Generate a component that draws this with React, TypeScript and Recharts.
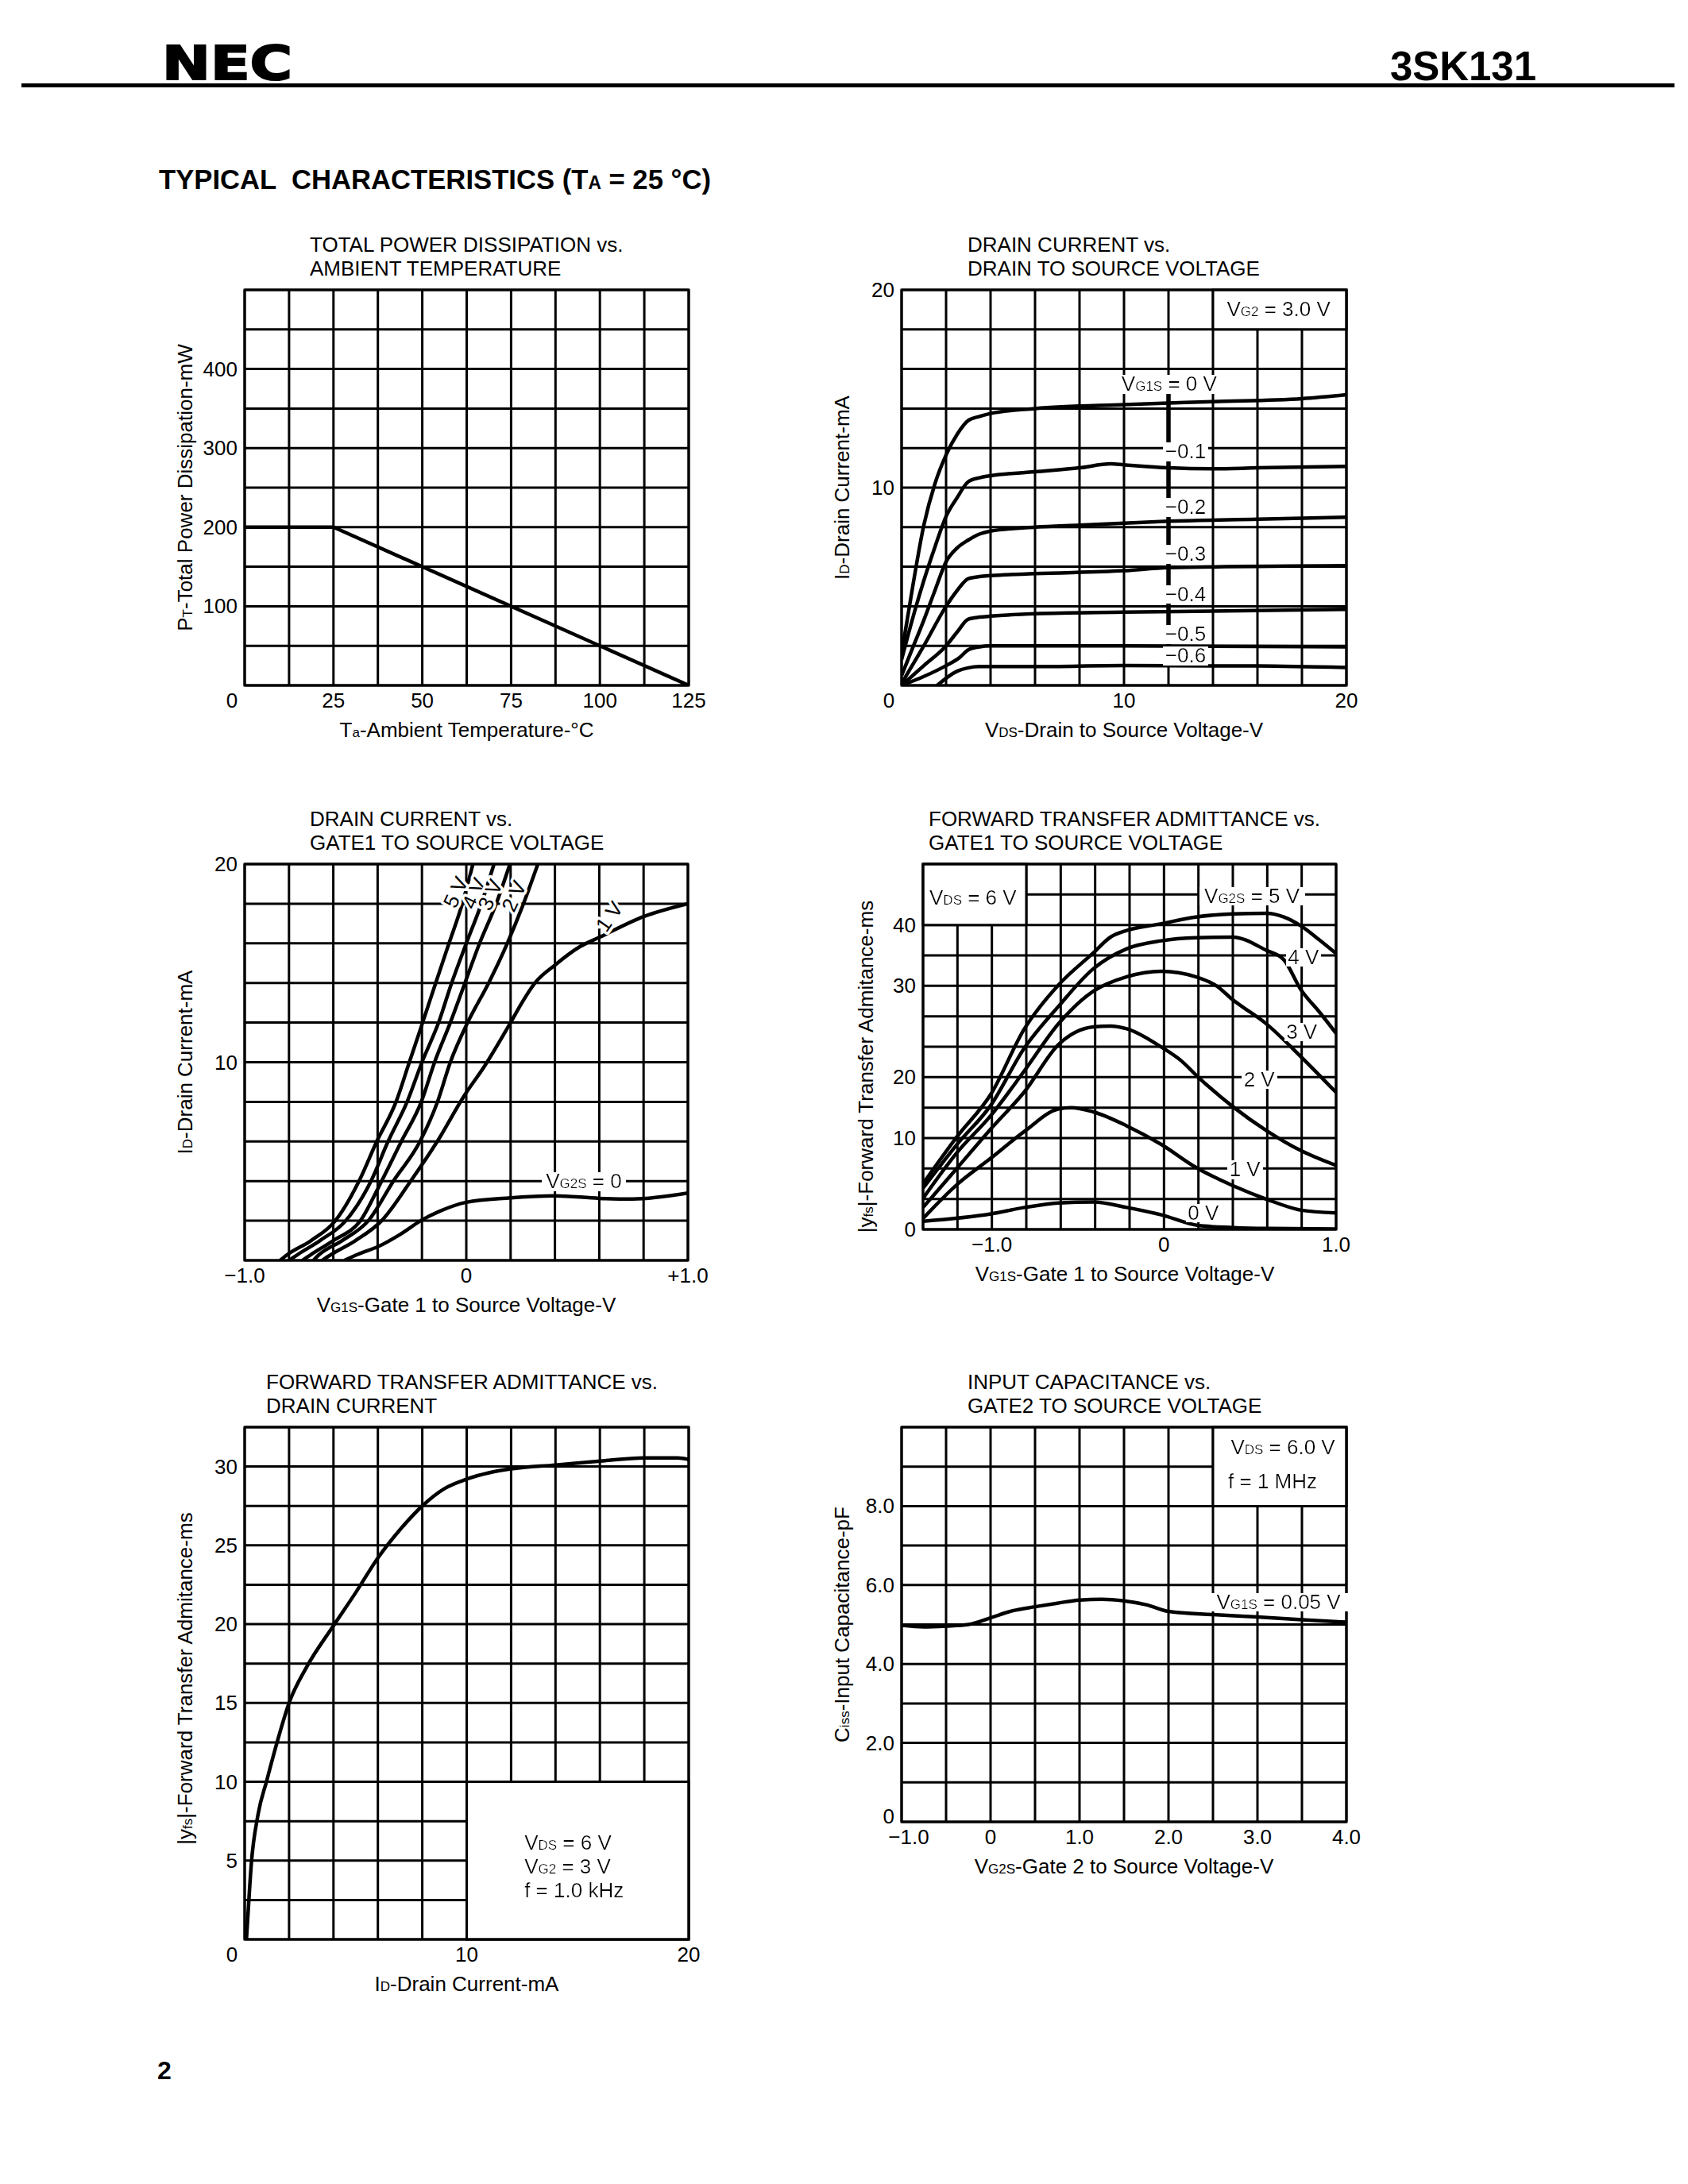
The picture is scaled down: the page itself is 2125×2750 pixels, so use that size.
import React from 'react';
import {
  LineChart,
  Line,
  XAxis,
  YAxis,
  CartesianGrid,
  ReferenceArea,
  ReferenceDot,
  ReferenceLine,
} from 'recharts';

const FONT = '"Liberation Sans", Arial, Helvetica, sans-serif';
const FS = 26;
const SUB = 17;
const GRID_W = 3;
const CURVE_W = 4.5;

type Pt = [number, number];
type Seg = string | [string]; // [text] = subscript
type TickLabel = { v: number; text: string; dx?: number; dy?: number };
type Note = {
  x: number;
  y: number;
  segs: Seg[];
  anchor?: 'start' | 'middle' | 'end';
  rotate?: number;
};

// ---------- 1: total power dissipation vs ambient temperature ----------
const PT_X_GRID = [0, 12.5, 25, 37.5, 50, 62.5, 75, 87.5, 100, 112.5, 125];
const PT_Y_GRID = [0, 50, 100, 150, 200, 250, 300, 350, 400, 450, 500];
const PT_X_LABELS: TickLabel[] = [
  { v: 0, text: '0', dx: -16 },
  { v: 25, text: '25' },
  { v: 50, text: '50' },
  { v: 75, text: '75' },
  { v: 100, text: '100' },
  { v: 125, text: '125' },
];
const PT_Y_LABELS: TickLabel[] = [
  { v: 100, text: '100' },
  { v: 200, text: '200' },
  { v: 300, text: '300' },
  { v: 400, text: '400' },
];
const PT_CURVE: Pt[] = [[0, 200], [25, 200], [125, 0]];

// ---------- 2: drain current vs drain to source voltage ----------
const VDS_GRID = [0, 2, 4, 6, 8, 10, 12, 14, 16, 18, 20];
const ID20_GRID = [0, 2, 4, 6, 8, 10, 12, 14, 16, 18, 20];
const VDS_LABELS: TickLabel[] = [
  { v: 0, text: '0', dx: -16 },
  { v: 10, text: '10' },
  { v: 20, text: '20' },
];
const ID20_LABELS: TickLabel[] = [
  { v: 10, text: '10' },
  { v: 20, text: '20' },
];
const ID_VDS_CURVES: Pt[][] = [
  // VG1S = 0 V
  [[0, 1.6], [0.5, 5.0], [1, 8.1], [1.5, 10.2], [2, 11.65], [2.5, 12.7], [3, 13.4], [3.5, 13.6], [4, 13.75], [6, 14.0], [10, 14.2], [14, 14.35], [18, 14.5], [20, 14.7]],
  // -0.1
  [[0, 1.3], [0.5, 3.4], [1, 5.3], [1.5, 7.0], [2, 8.55], [2.5, 9.5], [3, 10.3], [3.5, 10.5], [4, 10.6], [6, 10.8], [8, 11.0], [9.4, 11.2], [10, 11.15], [12, 11.0], [14, 10.95], [16, 11.0], [20, 11.07]],
  // -0.2
  [[0, 0.5], [0.5, 1.9], [1, 3.3], [1.5, 4.8], [2, 6.25], [2.5, 6.95], [3, 7.35], [3.5, 7.65], [4, 7.8], [6, 8.0], [8, 8.1], [10, 8.2], [12, 8.3], [16, 8.4], [20, 8.5]],
  // -0.3
  [[0, 0.1], [1, 2.0], [2, 4.0], [2.5, 4.8], [3, 5.4], [3.5, 5.5], [4, 5.55], [6, 5.65], [10, 5.8], [12, 5.95], [20, 6.05]],
  // -0.4
  [[0, 0], [1, 1.0], [2, 2.0], [2.5, 2.7], [3, 3.35], [3.5, 3.45], [4, 3.5], [6, 3.62], [10, 3.7], [20, 3.85]],
  // -0.5
  [[0, 0], [1, 0.45], [2, 1.0], [2.6, 1.4], [3, 1.8], [3.5, 1.95], [4, 2.0], [10, 2.0], [20, 1.95]],
  // -0.6
  [[1.6, 0], [2.5, 0.72], [3, 0.89], [3.5, 0.95], [6, 0.95], [10, 1.0], [16, 0.98], [20, 0.9]],
];
const ID_VDS_NOTES: Note[] = [
  { x: 16.95, y: 19.03, segs: ['V', ['G2'], ' = 3.0 V'] },
  { x: 12.03, y: 15.25, segs: ['V', ['G1S'], ' = 0 V'] },
  { x: 11.85, y: 11.83, segs: ['\u22120.1'], anchor: 'start' },
  { x: 11.85, y: 9.03, segs: ['\u22120.2'], anchor: 'start' },
  { x: 11.85, y: 6.66, segs: ['\u22120.3'], anchor: 'start' },
  { x: 11.85, y: 4.63, segs: ['\u22120.4'], anchor: 'start' },
  { x: 11.85, y: 2.6, segs: ['\u22120.5'], anchor: 'start' },
  { x: 11.85, y: 1.52, segs: ['\u22120.6'], anchor: 'start' },
];

// ---------- 3: drain current vs gate1 to source voltage ----------
const VG1_GRID = [-1, -0.8, -0.6, -0.4, -0.2, 0, 0.2, 0.4, 0.6, 0.8, 1];
const VG1_LABELS: TickLabel[] = [
  { v: -1, text: '\u22121.0' },
  { v: 0, text: '0' },
  { v: 1, text: '+1.0' },
];
const ID_VG1_CURVES: Pt[][] = [
  // VG2S = 5 V
  [[-0.84, 0], [-0.806, 0.3], [-0.7, 1.0], [-0.591, 2], [-0.484, 4], [-0.404, 6], [-0.317, 8], [-0.257, 10], [-0.197, 12], [-0.138, 14], [-0.078, 16], [-0.018, 18], [0.03, 20]],
  // 4 V
  [[-0.8, 0], [-0.76, 0.3], [-0.66, 1.0], [-0.544, 2], [-0.43, 4], [-0.353, 6], [-0.267, 8], [-0.2, 10], [-0.125, 12], [-0.066, 14], [0.0, 16], [0.068, 18], [0.125, 20]],
  // 3 V
  [[-0.74, 0], [-0.7, 0.3], [-0.6, 1.0], [-0.478, 2], [-0.382, 4], [-0.293, 6], [-0.203, 8], [-0.143, 10], [-0.072, 12], [-0.006, 14], [0.06, 16], [0.135, 18], [0.197, 20]],
  // 2 V
  [[-0.69, 0], [-0.663, 0.3], [-0.56, 1.0], [-0.442, 2], [-0.329, 4], [-0.209, 6], [-0.13, 8], [-0.072, 10], [0.006, 12], [0.101, 14], [0.185, 16], [0.258, 18], [0.323, 20]],
  // 1 V
  [[-0.65, 0], [-0.609, 0.3], [-0.5, 1.0], [-0.382, 2], [-0.251, 4], [-0.131, 6], [-0.01, 8.3], [0.084, 9.83], [0.2, 12.0], [0.251, 13.0], [0.31, 14.0], [0.4, 14.9], [0.514, 15.84], [0.6, 16.3], [0.8, 17.35], [1.0, 18.0]],
  // 0 V
  [[-0.55, 0], [-0.49, 0.3], [-0.397, 0.7], [-0.3, 1.3], [-0.2, 2.04], [-0.12, 2.48], [0, 2.93], [0.19, 3.15], [0.4, 3.26], [0.6, 3.13], [0.75, 3.1], [1.0, 3.4]],
];
// rotated labels along the steep curves
const ID_VG1_ROT_NOTES: Note[] = [
  { x: -0.048, y: 18.58, segs: ['5 V'], rotate: -65 },
  { x: 0.036, y: 18.52, segs: ['4 V'], rotate: -65 },
  { x: 0.108, y: 18.45, segs: ['3 V'], rotate: -65 },
  { x: 0.215, y: 18.38, segs: ['2 V'], rotate: -65 },
  { x: 0.645, y: 17.35, segs: ['1 V'], rotate: -55 },
];
const ID_VG1_NOTES: Note[] = [{ x: 0.53, y: 4.0, segs: ['V', ['G2S'], ' = 0'] }];

// ---------- 4: |yfs| vs gate1 to source voltage ----------
const YFS_VG1_GRID = [-1.4, -1.2, -1, -0.8, -0.6, -0.4, -0.2, 0, 0.2, 0.4, 0.6, 0.8, 1];
const YFS_VG1_LABELS: TickLabel[] = [
  { v: -1, text: '\u22121.0' },
  { v: 0, text: '0' },
  { v: 1, text: '1.0' },
];
// the printed scale is uneven: ms value -> grid row
const YFS_ROWS: Pt[] = [[0, 0], [10, 3], [20, 5], [30, 8], [40, 10], [50, 12]];
const YFS_ROW_GRID = [0, 1, 2, 3, 4, 5, 6, 7, 8, 9, 10, 11, 12];
const YFS_VG1_CURVES: Pt[][] = [
  // VG2S = 5 V
  [[-1.4, 5.0], [-1.203, 10.2], [-1.006, 17.2], [-0.811, 25.3], [-0.611, 30.2], [-0.411, 35.4], [-0.311, 38.0], [-0.216, 39.1], [-0.016, 40.2], [0.184, 41.3], [0.398, 41.8], [0.597, 41.9], [0.696, 41.3], [0.798, 39.8], [0.9, 37.6], [1.0, 35.3]],
  // 4 V
  [[-1.4, 4.5], [-1.203, 9.3], [-1.006, 15.4], [-0.811, 23.2], [-0.611, 27.8], [-0.411, 32.8], [-0.216, 36.1], [-0.016, 37.4], [0.184, 37.9], [0.398, 38.0], [0.597, 35.8], [0.696, 34.3], [0.798, 29.5], [0.9, 27.2], [1.0, 24.8]],
  // 3 V
  [[-1.4, 3.4], [-1.203, 8.4], [-1.006, 13.7], [-0.811, 20.7], [-0.611, 25.9], [-0.411, 29.4], [-0.216, 31.5], [-0.016, 32.4], [0.184, 31.5], [0.305, 30.0], [0.398, 28.5], [0.597, 25.8], [0.798, 22.2], [1.0, 17.5]],
  // 2 V
  [[-1.4, 2.4], [-1.203, 6.7], [-1.006, 11.5], [-0.811, 17.6], [-0.611, 23.6], [-0.411, 25.5], [-0.311, 25.6], [-0.216, 25.3], [-0.016, 23.3], [0.1, 21.8], [0.199, 20.0], [0.398, 15.2], [0.597, 11.2], [0.798, 8.6], [1.0, 7.0]],
  // 1 V
  [[-1.4, 1.2], [-1.203, 4.9], [-1.006, 7.8], [-0.811, 11.1], [-0.611, 14.8], [-0.54, 15.0], [-0.411, 14.3], [-0.216, 12.0], [-0.016, 9.3], [0.184, 6.8], [0.398, 4.8], [0.597, 3.3], [0.798, 2.1], [1.0, 1.8]],
  // 0 V
  [[-1.4, 0.9], [-1.006, 1.7], [-0.811, 2.4], [-0.611, 2.9], [-0.411, 3.0], [-0.216, 2.4], [-0.016, 1.6], [0.199, 0.43], [0.4, 0.2], [0.6, 0.1], [1.0, 0.05]],
];
const YFS_VG1_NOTES: Note[] = [
  { x: -1.11, y: 44.5, segs: ['V', ['DS'], ' = 6 V'] },
  { x: 0.511, y: 44.8, segs: ['V', ['G2S'], ' = 5 V'] },
  { x: 0.81, y: 34.8, segs: ['4 V'] },
  { x: 0.8, y: 25.0, segs: ['3 V'] },
  { x: 0.553, y: 19.7, segs: ['2 V'] },
  { x: 0.47, y: 6.6, segs: ['1 V'] },
  { x: 0.228, y: 1.85, segs: ['0 V'] },
];

// ---------- 5: |yfs| vs drain current ----------
const ID_X_GRID = [0, 2, 4, 6, 8, 10, 12, 14, 16, 18, 20];
const ID_X_LABELS: TickLabel[] = [
  { v: 0, text: '0', dx: -16 },
  { v: 10, text: '10' },
  { v: 20, text: '20' },
];
const YFS_ID_GRID = [0, 2.5, 5, 7.5, 10, 12.5, 15, 17.5, 20, 22.5, 25, 27.5, 30, 32.5];
const YFS_ID_LABELS: TickLabel[] = [
  { v: 5, text: '5' },
  { v: 10, text: '10' },
  { v: 15, text: '15' },
  { v: 20, text: '20' },
  { v: 25, text: '25' },
  { v: 30, text: '30' },
];
const YFS_ID_CURVE: Pt[] = [
  [0.08, 0], [0.15, 1.6], [0.3, 4.8], [0.6, 7.9], [1.0, 10.1], [1.5, 12.7], [2.0, 15.0], [2.8, 17.3],
  [4.0, 19.9], [5.0, 22.0], [6.0, 24.2], [7.0, 26.0], [8.0, 27.5], [9.0, 28.6], [10.0, 29.2], [11.0, 29.6],
  [12.0, 29.85], [14.0, 30.1], [16.0, 30.35], [18.0, 30.55], [19.5, 30.55], [20.0, 30.45],
];
const YFS_ID_NOTES: Note[] = [
  { x: 12.6, y: 6.17, segs: ['V', ['DS'], ' = 6 V'], anchor: 'start' },
  { x: 12.6, y: 4.64, segs: ['V', ['G2'], ' = 3 V'], anchor: 'start' },
  { x: 12.6, y: 3.12, segs: ['f = 1.0 kHz'], anchor: 'start' },
];

// ---------- 6: input capacitance vs gate2 to source voltage ----------
const VG2_GRID = [-1, -0.5, 0, 0.5, 1, 1.5, 2, 2.5, 3, 3.5, 4];
const VG2_LABELS: TickLabel[] = [
  { v: -1, text: '\u22121.0', dx: 9 },
  { v: 0, text: '0' },
  { v: 1, text: '1.0' },
  { v: 2, text: '2.0' },
  { v: 3, text: '3.0' },
  { v: 4, text: '4.0' },
];
const CISS_GRID = [0, 1, 2, 3, 4, 5, 6, 7, 8, 9, 10];
const CISS_LABELS: TickLabel[] = [
  { v: 0, text: '0', dy: -7 },
  { v: 2, text: '2.0' },
  { v: 4, text: '4.0' },
  { v: 6, text: '6.0' },
  { v: 8, text: '8.0' },
];
const CISS_CURVE: Pt[] = [
  [-1, 4.98], [-0.75, 4.94], [-0.5, 4.96], [-0.25, 5.0], [0, 5.17], [0.25, 5.35], [0.5, 5.45], [0.75, 5.54],
  [1.0, 5.62], [1.25, 5.64], [1.5, 5.6], [1.75, 5.5], [2.0, 5.33], [2.5, 5.25], [3.0, 5.19], [3.5, 5.12], [4.0, 5.06],
];
const CISS_NOTES: Note[] = [
  { x: 2.54, y: 5.58, segs: ['V', ['G1S'], ' = 0.05 V'], anchor: 'start' },
  { x: 2.7, y: 9.5, segs: ['V', ['DS'], ' = 6.0 V'], anchor: 'start' },
  { x: 2.67, y: 8.64, segs: ['f = 1 MHz'], anchor: 'start' },
];

// ---------- helpers ----------
function msToRow(ms: number) {
  for (let i = 1; i < YFS_ROWS.length; i++) {
    const [m0, r0] = YFS_ROWS[i - 1];
    const [m1, r1] = YFS_ROWS[i];
    if (ms <= m1 || i === YFS_ROWS.length - 1) return r0 + ((ms - m0) / (m1 - m0)) * (r1 - r0);
  }
  return 0;
}
const YFS_ROW_LABELS: TickLabel[] = YFS_ROWS.slice(0, 5).map(([ms, row]) => ({ v: row, text: String(ms) }));

const toPts = (arr: Pt[]) => arr.map(([x, y]) => ({ x, y }));

function Rich({ segs }: { segs: Seg[] }) {
  return (
    <>
      {segs.map((s, i) =>
        typeof s === 'string' ? (
          <tspan key={i}>{s}</tspan>
        ) : (
          <tspan key={i} fontSize={SUB}>{s[0]}</tspan>
        ),
      )}
    </>
  );
}

const xTick = (labels: TickLabel[]) => (p: any) => {
  const l = labels.find((t) => Math.abs(t.v - p.payload.value) < 1e-6);
  if (!l) return <g />;
  return (
    <text x={p.x + (l.dx ?? 0)} y={p.y} dy={19} textAnchor="middle" fontSize={FS} fontFamily={FONT} fill="#000">
      {l.text}
    </text>
  );
};

const yTick = (labels: TickLabel[]) => (p: any) => {
  const l = labels.find((t) => Math.abs(t.v - p.payload.value) < 1e-6);
  if (!l) return <g />;
  return (
    <text x={p.x} y={p.y + (l.dy ?? 0)} dy={9} textAnchor="end" fontSize={FS} fontFamily={FONT} fill="#000">
      {l.text}
    </text>
  );
};

// halo = white outline around glyphs (used for rotated labels), otherwise a white box behind text
function noteLabel(n: Note, halo: boolean) {
  return (p: any) => {
    const vb = p.viewBox || {};
    const cx = (vb.x ?? 0) + (vb.width ?? 0) / 2;
    const cy = (vb.y ?? 0) + (vb.height ?? 0) / 2;
    return (
      <text
        x={cx}
        y={cy}
        dy={9}
        textAnchor={n.anchor ?? 'middle'}
        fontFamily={FONT}
        fontSize={FS}
        fill="#000"
        stroke={halo ? '#fff' : undefined}
        strokeWidth={halo ? 7 : undefined}
        strokeLinejoin="round"
        paintOrder="stroke"
        filter={halo ? undefined : 'url(#txtbg)'}
        transform={n.rotate ? `rotate(${n.rotate} ${cx} ${cy})` : undefined}
      >
        <Rich segs={n.segs} />
      </text>
    );
  };
}

const notes = (list: Note[], key: string, mapY: (v: number) => number = (v) => v, halo = false) =>
  list.map((n, i) => (
    <ReferenceDot key={key + i} x={n.x} y={mapY(n.y)} r={0} fill="none" stroke="none" label={noteLabel(n, halo)} />
  ));

const curves = (list: Pt[][], key: string, type: 'monotone' | 'linear' = 'monotone') =>
  list.map((c, i) => (
    <Line
      key={key + i}
      data={toPts(c)}
      dataKey="y"
      type={type}
      stroke="#000"
      strokeWidth={CURVE_W}
      dot={false}
      activeDot={false}
      isAnimationActive={false}
    />
  ));

const box = (key: string, x1: number, x2: number, y1: number, y2: number) => (
  <ReferenceArea key={key} x1={x1} x2={x2} y1={y1} y2={y2} fill="#fff" fillOpacity={1} stroke="#000" strokeWidth={GRID_W} />
);

const ML = 130;
const MT = 90;
const MR = 40;
const MB = 80;

interface PanelProps {
  left: number;
  top: number;
  w: number;
  h: number;
  title: [string, string];
  titleDx: number;
  xLabel: Seg[];
  yLabel: Seg[];
  xLabelDx?: number;
  yLabelDx?: number;
  yLabelDy?: number;
  xDomain: [number, number];
  xGrid: number[];
  xLabels: TickLabel[];
  yDomain: [number, number];
  yGrid: number[];
  yLabels: TickLabel[];
  children?: React.ReactNode;
}

function Panel(props: PanelProps) {
  const { left, top, w, h, title, titleDx, xLabel, yLabel, xDomain, yDomain } = props;
  const W = ML + w + MR;
  const H = MT + h + MB;
  return (
    <div style={{ position: 'absolute', left: left - ML, top: top - MT, width: W, height: H }}>
      <LineChart width={W} height={H} margin={{ top: MT, right: MR, bottom: 0, left: 0 }}>
        <CartesianGrid stroke="#000" strokeWidth={GRID_W} />
        <XAxis
          type="number"
          dataKey="x"
          domain={xDomain}
          ticks={props.xGrid}
          interval={0}
          allowDataOverflow
          height={MB}
          tickSize={0}
          tickMargin={9}
          axisLine={false}
          tick={xTick(props.xLabels)}
        />
        <YAxis
          type="number"
          domain={yDomain}
          ticks={props.yGrid}
          interval={0}
          allowDataOverflow
          width={ML}
          tickSize={0}
          tickMargin={9}
          axisLine={false}
          tick={yTick(props.yLabels)}
        />
        {props.children}
        <ReferenceArea
          x1={xDomain[0]}
          x2={xDomain[1]}
          y1={yDomain[0]}
          y2={yDomain[1]}
          fill="none"
          stroke="#000"
          strokeWidth={GRID_W}
        />
      </LineChart>
      <svg
        width={W}
        height={H}
        style={{ position: 'absolute', left: 0, top: 0, pointerEvents: 'none' }}
        fontFamily={FONT}
        fontSize={FS}
        fill="#000"
      >
        <text x={ML + titleDx} y={MT - 48}>{title[0]}</text>
        <text x={ML + titleDx} y={MT - 18}>{title[1]}</text>
        <text x={ML + w / 2 + (props.xLabelDx ?? 0)} y={MT + h + 65} textAnchor="middle">
          <Rich segs={xLabel} />
        </text>
        <text
          transform={`translate(${ML - 75 + (props.yLabelDx ?? 0)} ${MT + h / 2 + (props.yLabelDy ?? 0)}) rotate(-90)`}
          textAnchor="middle"
          dy={9}
        >
          <Rich segs={yLabel} />
        </text>
      </svg>
    </div>
  );
}

export default function App() {
  return (
    <div
      style={{
        position: 'absolute',
        left: 0,
        top: 0,
        width: 2125,
        height: 2750,
        background: '#fff',
        fontFamily: FONT,
        overflow: 'hidden',
      }}
    >
      <svg width={2125} height={2750} style={{ position: 'absolute', left: 0, top: 0 }} fill="#000">
        <defs>
          <filter id="txtbg" x="-0.05" y="0.15" width="1.1" height="0.75">
            <feFlood floodColor="#fff" result="bg" />
            <feMerge>
              <feMergeNode in="bg" />
              <feMergeNode in="SourceGraphic" />
            </feMerge>
          </filter>
        </defs>
        <text
          x={204}
          y={100}
          fontFamily='"DejaVu Sans", sans-serif'
          fontWeight="bold"
          fontSize={58}
          textLength={164}
          lengthAdjust="spacingAndGlyphs"
          stroke="#000"
          strokeWidth={2}
        >
          NEC
        </text>
        <text
          x={1750}
          y={101}
          fontFamily={FONT}
          fontWeight="bold"
          fontSize={52}
          textLength={184}
          lengthAdjust="spacingAndGlyphs"
        >
          3SK131
        </text>
        <rect x={27} y={105} width={2081} height={5} />
        <text
          x={200}
          y={238}
          fontFamily={FONT}
          fontWeight="bold"
          fontSize={35}
          textLength={695}
          lengthAdjust="spacingAndGlyphs"
          style={{ whiteSpace: 'pre' }}
        >
          {'TYPICAL  CHARACTERISTICS (T'}
          <tspan fontSize={23}>A</tspan>
          {' = 25 \u00b0C)'}
        </text>
        <text x={198} y={2618} fontFamily={FONT} fontWeight="bold" fontSize={32}>
          2
        </text>
      </svg>

      <Panel
        left={308}
        top={365}
        w={559}
        h={498}
        title={['TOTAL POWER DISSIPATION vs.', 'AMBIENT TEMPERATURE']}
        titleDx={82}
        xLabel={['T', ['a'], '-Ambient Temperature-\u00b0C']}
        yLabel={['P', ['T'], '-Total Power Dissipation-mW']}
        xDomain={[0, 125]}
        xGrid={PT_X_GRID}
        xLabels={PT_X_LABELS}
        yDomain={[0, 500]}
        yGrid={PT_Y_GRID}
        yLabels={PT_Y_LABELS}
      >
        {curves([PT_CURVE], 'pt', 'linear')}
      </Panel>

      <Panel
        left={1135}
        top={365}
        w={560}
        h={498}
        title={['DRAIN CURRENT vs.', 'DRAIN TO SOURCE VOLTAGE']}
        titleDx={83}
        xLabel={['V', ['DS'], '-Drain to Source Voltage-V']}
        yLabel={['I', ['D'], '-Drain Current-mA']}
        xDomain={[0, 20]}
        xGrid={VDS_GRID}
        xLabels={VDS_LABELS}
        yDomain={[0, 20]}
        yGrid={ID20_GRID}
        yLabels={ID20_LABELS}
      >
        {[
          box('b2', 14, 20, 18, 20),
          ...curves(ID_VDS_CURVES, 'c2'),
          <ReferenceLine
            key="mark"
            segment={[{ x: 12, y: 1.2 }, { x: 12, y: 15 }]}
            stroke="#000"
            strokeWidth={5.5}
          />,
          ...notes(ID_VDS_NOTES, 'n2'),
        ]}
      </Panel>

      <Panel
        left={308}
        top={1088}
        w={558}
        h={499}
        title={['DRAIN CURRENT vs.', 'GATE1 TO SOURCE VOLTAGE']}
        titleDx={82}
        xLabel={['V', ['G1S'], '-Gate 1 to Source Voltage-V']}
        yLabel={['I', ['D'], '-Drain Current-mA']}
        xDomain={[-1, 1]}
        xGrid={VG1_GRID}
        xLabels={VG1_LABELS}
        yDomain={[0, 20]}
        yGrid={ID20_GRID}
        yLabels={ID20_LABELS}
      >
        {[
          ...curves(ID_VG1_CURVES, 'c3'),
          ...notes(ID_VG1_ROT_NOTES, 'r3', (v) => v, true),
          ...notes(ID_VG1_NOTES, 'n3'),
        ]}
      </Panel>

      <Panel
        left={1162}
        top={1088}
        w={520}
        h={460}
        title={['FORWARD TRANSFER ADMITTANCE vs.', 'GATE1 TO SOURCE VOLTAGE']}
        titleDx={7}
        xLabel={['V', ['G1S'], '-Gate 1 to Source Voltage-V']}
        xLabelDx={-6}
        yLabel={['|y', ['fs'], '|-Forward Transfer Admitance-ms']}
        yLabelDx={3}
        yLabelDy={25}
        xDomain={[-1.4, 1]}
        xGrid={YFS_VG1_GRID}
        xLabels={YFS_VG1_LABELS}
        yDomain={[0, 12]}
        yGrid={YFS_ROW_GRID}
        yLabels={YFS_ROW_LABELS}
      >
        {[
          box('b4', -1.4, -0.8, msToRow(40), msToRow(50)),
          ...curves(
            YFS_VG1_CURVES.map((c) => c.map(([x, ms]) => [x, msToRow(ms)] as Pt)),
            'c4',
          ),
          ...notes(YFS_VG1_NOTES, 'n4', msToRow),
        ]}
      </Panel>

      <Panel
        left={308}
        top={1797}
        w={559}
        h={645}
        title={['FORWARD TRANSFER ADMITTANCE vs.', 'DRAIN CURRENT']}
        titleDx={27}
        xLabel={['I', ['D'], '-Drain Current-mA']}
        yLabel={['|y', ['fs'], '|-Forward Transfer Admitance-ms']}
        yLabelDy={-6}
        xDomain={[0, 20]}
        xGrid={ID_X_GRID}
        xLabels={ID_X_LABELS}
        yDomain={[0, 32.5]}
        yGrid={YFS_ID_GRID}
        yLabels={YFS_ID_LABELS}
      >
        {[box('b5', 10, 20, 0, 10), ...curves([YFS_ID_CURVE], 'c5'), ...notes(YFS_ID_NOTES, 'n5')]}
      </Panel>

      <Panel
        left={1135}
        top={1797}
        w={560}
        h={497}
        title={['INPUT CAPACITANCE vs.', 'GATE2 TO SOURCE VOLTAGE']}
        titleDx={83}
        xLabel={['V', ['G2S'], '-Gate 2 to Source Voltage-V']}
        yLabel={['C', ['iss'], '-Input Capacitance-pF']}
        xDomain={[-1, 4]}
        xGrid={VG2_GRID}
        xLabels={VG2_LABELS}
        yDomain={[0, 10]}
        yGrid={CISS_GRID}
        yLabels={CISS_LABELS}
      >
        {[box('b6', 2.5, 4, 8, 10), ...curves([CISS_CURVE], 'c6'), ...notes(CISS_NOTES, 'n6')]}
      </Panel>
    </div>
  );
}
